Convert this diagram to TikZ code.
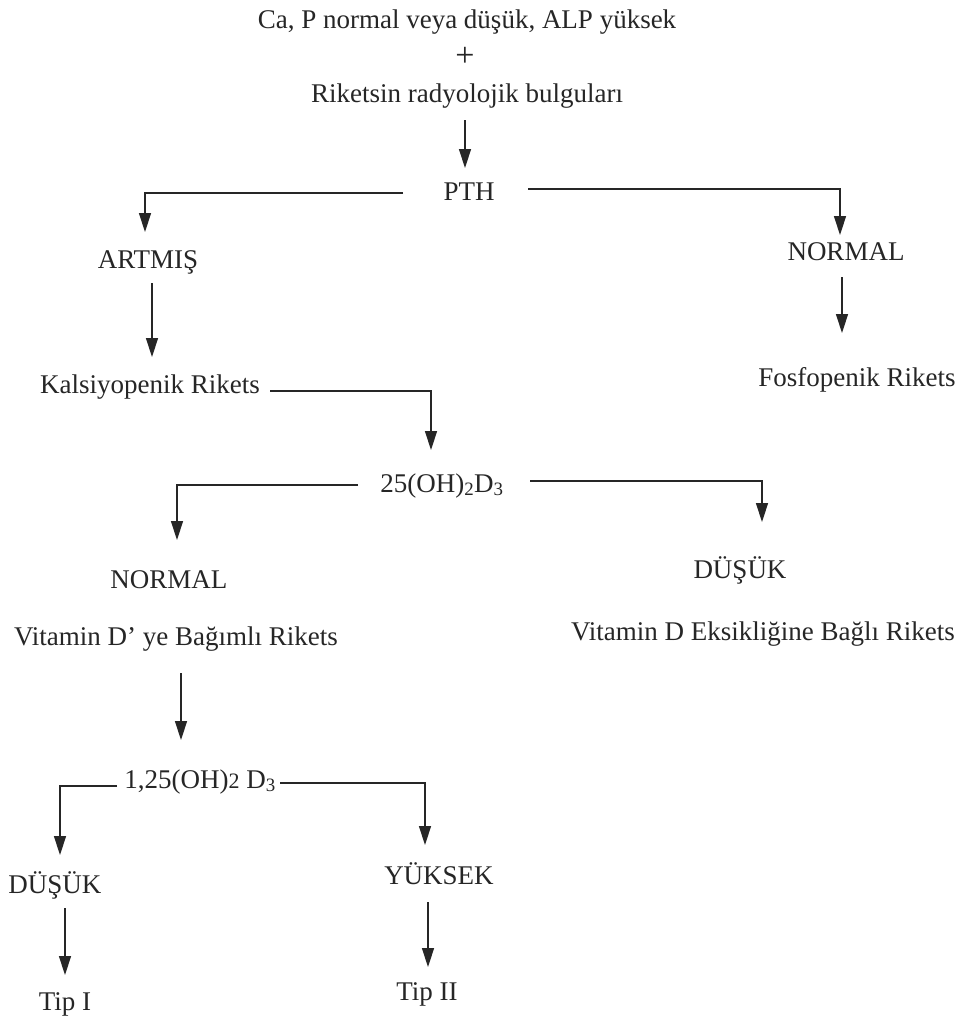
\documentclass[tikz,border=0pt]{standalone}
\usepackage{fontspec}
\setmainfont{Liberation Serif}
\usetikzlibrary{arrows.meta,calc}
\definecolor{ink}{gray}{0.15}
\begin{document}
\begin{tikzpicture}[x=1pt,y=-1pt,
  lbl/.style={inner sep=0pt, anchor=base, font=\fontsize{27}{32}\selectfont, text=ink},
  ln/.style={draw=ink, line width=1.4pt},
  arr/.style={ln, -{Triangle[length=19pt,width=12pt]}}]
\useasboundingbox[fill=white] (0,0) rectangle (976,1017);
\node[lbl] (ca) at (467,28) {Ca, P normal veya düşük, ALP yüksek};
\node[inner sep=0pt, text=ink, font=\fontsize{34}{34}\selectfont] (plus) at (465,57) {+};
\node[lbl] (riket) at (467,102) {Riketsin radyolojik bulguları};
\node[lbl] (pth) at (469,200) {PTH};
\node[lbl] (artmis) at (148,268) {ARTMIŞ};
\node[lbl] (normalA) at (846,260) {NORMAL};
\node[lbl] (kalsi) at (150,393) {Kalsiyopenik Rikets};
\node[lbl] (fosfo) at (857,386) {Fosfopenik Rikets};
\node[lbl] (d25) at (442,492) {25(OH)\textsubscript{2}D\textsubscript{3}};
\node[lbl] (normalB) at (169,588) {NORMAL};
\node[lbl] (dusukA) at (740,578) {DÜŞÜK};
\node[lbl] (vitdep) at (176,645) {Vitamin D’ ye Bağımlı Rikets};
\node[lbl] (viteks) at (763,640) {Vitamin D Eksikliğine Bağlı Rikets};
\node[lbl] (c125) at (200,788) {1,25(OH){\fontsize{22}{22}\selectfont 2} D\textsubscript{3}};
\node[lbl] (dusukB) at (55,893) {DÜŞÜK};
\node[lbl] (yuksek) at (439,884) {YÜKSEK};
\node[lbl] (tip1) at (65,1010) {Tip I};
\node[lbl] (tip2) at (427,1000) {Tip II};

\draw[arr] ($(riket.base)+(-2,18)$) -- ($(pth.base)+(-4,-32)$);
\draw[arr] ($(pth.base)+(-66,-7)$) -| ($(artmis.base)+(-3,-36)$);
\draw[arr] ($(pth.base)+(59,-11)$) -| ($(normalA.base)+(-6,-25)$);
\draw[arr] ($(artmis.base)+(4,15)$) -- ($(kalsi.base)+(2,-36)$);
\draw[arr] ($(normalA.base)+(-4,17)$) -- ($(fosfo.base)+(-15,-53)$);
\draw[arr] ($(kalsi.base)+(120,-2)$) -| ($(d25.base)+(-11,-42)$);
\draw[arr] ($(d25.base)+(-84,-7)$) -| ($(normalB.base)+(8,-48)$);
\draw[arr] ($(d25.base)+(88,-11)$) -| ($(dusukA.base)+(22,-56)$);
\draw[arr] ($(vitdep.base)+(5,28)$) -- ($(c125.base)+(-19,-48)$);
\draw[arr] ($(c125.base)+(-83,-2)$) -| ($(dusukB.base)+(5,-38)$);
\draw[arr] ($(c125.base)+(80,-5)$) -| ($(yuksek.base)+(-14,-39)$);
\draw[arr] ($(dusukB.base)+(10,15)$) -- ($(tip1.base)+(0,-35)$);
\draw[arr] ($(yuksek.base)+(-11,18)$) -- ($(tip2.base)+(1,-33)$);
\end{tikzpicture}
\end{document}
